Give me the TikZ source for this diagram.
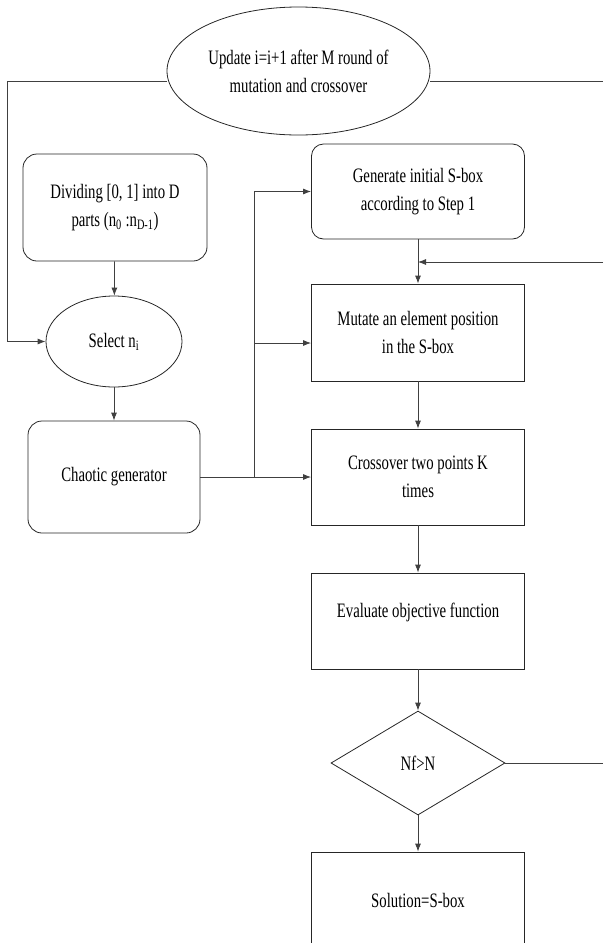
\documentclass[tikz,border=0pt]{standalone}
\usepackage{fontspec}
\setmainfont{Liberation Serif}[FakeStretch=0.72]
\usetikzlibrary{shapes.geometric,arrows.meta}

\begin{document}
\begin{tikzpicture}[x=1pt, y=-1pt, font=\fontsize{20.5}{28}\selectfont,
  box/.style={draw=black!85, line width=0.8pt, align=center, inner sep=2pt},
  roundbox/.style={box, rounded corners=14pt},
  sqbox/.style={box, minimum width=213, minimum height=96},
  oval/.style={box, ellipse},
  decide/.style={box, diamond, minimum width=174, minimum height=104},
  conn/.style={draw=black!75, line width=0.8pt},
  arr/.style={conn, -{Latex[length=8pt, width=6pt]}}]
  \useasboundingbox (0,0) rectangle (603,943);
  % ---- outer loop and left column ----
  \node[oval, minimum width=263, minimum height=128] (upd) at (298.5,71) {Update i=i+1 after M round of\\mutation and crossover};
  \node[roundbox, minimum width=184, minimum height=107] (divide) at (115,207.5) {Dividing [0, 1] into D\\parts (n\textsubscript{0} :n\textsubscript{D-1})};
  \node[oval, minimum width=136, minimum height=91] (sel) at (114,341.5) {Select n\textsubscript{i}};
  \node[roundbox, minimum width=172, minimum height=112] (chaos) at (114,477) {Chaotic generator};
  % ---- S-box column ----
  \node[sqbox, rounded corners=12pt, minimum height=95] (gen) at (418,191.5) {Generate initial S-box\\according to Step 1};
  \node[sqbox, minimum height=97] (mut) at (418,332.5) {Mutate an element position\\in the S-box};
  \node[sqbox] (cross) at (418,477) {Crossover two points K\\times};
  \node[sqbox, text depth=20.5pt] (eval) at (418,621) {Evaluate objective function};
  \node[decide] (dec) at (418,763) {Nf>N};
  \node[sqbox] (sol) at (418,900) {Solution=S-box};
  % ---- loose ends and junctions ----
  \coordinate (lt) at (7,81);
  \coordinate (rt1) at (603,81);
  \coordinate (rt2) at (603,262);
  \coordinate (rt3) at (603,763);
  \coordinate (jlow) at (254,477);
  \coordinate (jmid) at (254,343);
  % ---- connectors ----
  \draw[arr] ([yshift=-10pt]upd.west) -- (lt) |- (sel.west);
  \draw[conn] ([yshift=-10pt]upd.east) -- (rt1);
  \draw[arr] (divide) -- (sel);
  \draw[arr] (sel) -- (chaos);
  \draw[arr] (chaos) -- (cross);
  \draw[arr] (jlow) |- (gen.west);
  \draw[arr] (jmid) -- (jmid -| mut.west);
  \draw[arr] (gen) -- (mut);
  \draw[arr] (rt2) -- (rt2 -| gen.south);
  \draw[arr] (mut) -- (cross);
  \draw[arr] (cross) -- (eval);
  \draw[arr] (eval) -- (dec);
  \draw[arr] (dec) -- (sol);
  \draw[conn] (dec.east) -- (rt3);
\end{tikzpicture}
\end{document}
